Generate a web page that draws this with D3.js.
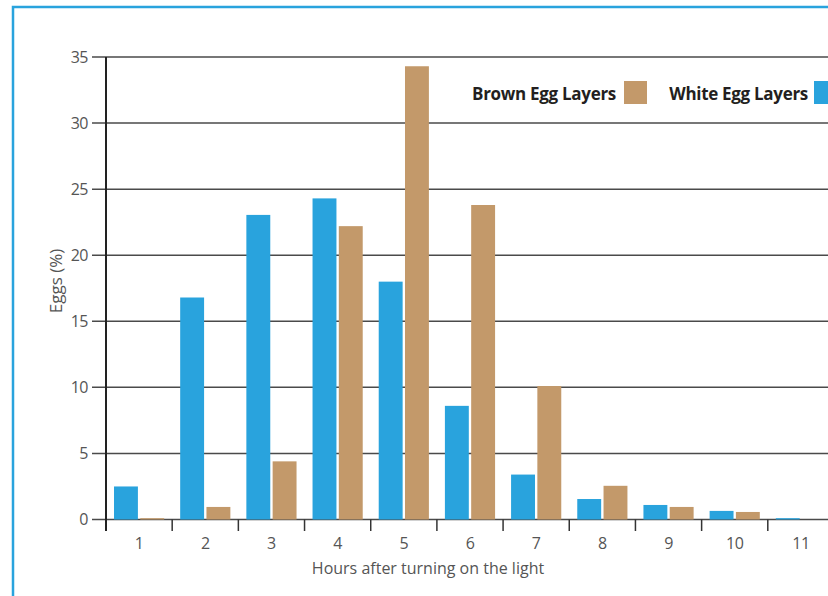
<!DOCTYPE html>
<html>
<head>
<meta charset="utf-8">
<script src="https://cdn.jsdelivr.net/npm/d3@7"></script>
<style>
  body { margin: 0; background: #fff; }
  text { font-family: "Open Sans", "Noto Sans", sans-serif; }
</style>
</head>
<body>
<svg width="828" height="596"></svg>
<script>
// hours after light on
var hours = [1, 2, 3, 4, 5, 6, 7, 8, 9, 10, 11];
var whiteEggs = [2.5, 16.8, 23.05, 24.3, 18.0, 8.6, 3.4, 1.55, 1.1, 0.65, 0.1];
var brownEggs = [0.1, 0.95, 4.4, 22.2, 34.3, 23.8, 10.1, 2.55, 0.95, 0.57, 0];
var yTicks = [0, 5, 10, 15, 20, 25, 30, 35];
var seriesNames = ["White Egg Layers", "Brown Egg Layers"];

var blue = "#29a3dd", brown = "#c3996a";

var svg = d3.select("svg");

// outer frame (runs off the right and bottom edge)
svg.append("path")
  .attr("d", "M13,600 L13,7 L840,7")
  .attr("fill", "none")
  .attr("stroke", blue)
  .attr("stroke-width", 2.5);

var x = d3.scaleBand().domain(hours).range([106, 106 + 11 * 66.18]);
var xs = d3.scaleBand().domain(seriesNames).range([8, 66.18 - 8]).paddingInner(0.09);
var y = d3.scaleLinear().domain([0, 35]).range([519.5, 57]);

// grid lines
svg.append("g")
  .selectAll("line")
  .data(yTicks)
  .enter().append("line")
  .attr("x1", 92)
  .attr("x2", 828)
  .attr("y1", d => y(d))
  .attr("y2", d => y(d))
  .attr("stroke", "#4a4a4a")
  .attr("stroke-width", 1.5);

// y tick labels
svg.append("g")
  .selectAll("text")
  .data(yTicks)
  .enter().append("text")
  .attr("x", 88)
  .attr("y", d => y(d))
  .attr("dy", "0.35em")
  .attr("text-anchor", "end")
  .attr("fill", "#555")
  .style("font-size", "16px")
  .style("letter-spacing", "-0.5px")
  .text(d => d);

// bars
var groups = svg.append("g")
  .selectAll("g")
  .data(hours)
  .enter().append("g")
  .attr("transform", d => "translate(" + x(d) + ",0)");

groups.append("rect")
  .attr("x", xs("White Egg Layers"))
  .attr("width", xs.bandwidth())
  .attr("y", (d, i) => y(whiteEggs[i]))
  .attr("height", (d, i) => y(0) - y(whiteEggs[i]))
  .attr("fill", blue);

groups.append("rect")
  .attr("x", xs("Brown Egg Layers"))
  .attr("width", xs.bandwidth())
  .attr("y", (d, i) => y(brownEggs[i]))
  .attr("height", (d, i) => y(0) - y(brownEggs[i]))
  .attr("fill", brown);

// x axis ticks at band edges
svg.append("g")
  .selectAll("line")
  .data(hours)
  .enter().append("line")
  .attr("x1", d => x(d))
  .attr("x2", d => x(d))
  .attr("y1", y(0))
  .attr("y2", 531)
  .attr("stroke", "#333")
  .attr("stroke-width", 1.5);

svg.append("g")
  .selectAll("text")
  .data(hours)
  .enter().append("text")
  .attr("x", d => x(d) + x.bandwidth() / 2)
  .attr("y", 543)
  .attr("dy", "0.35em")
  .attr("text-anchor", "middle")
  .attr("fill", "#555")
  .style("font-size", "16px")
  .style("letter-spacing", "-0.5px")
  .text(d => d);

// y axis line
svg.append("line")
  .attr("x1", 106).attr("x2", 106)
  .attr("y1", y(35)).attr("y2", 531)
  .attr("stroke", "#222")
  .attr("stroke-width", 2);

// axis titles
svg.append("text")
  .attr("x", 428)
  .attr("y", 568)
  .attr("dy", "0.35em")
  .attr("text-anchor", "middle")
  .attr("fill", "#555")
  .style("font-size", "16px")
  .text("Hours after turning on the light");

svg.append("text")
  .attr("transform", "translate(56,281) rotate(-90)")
  .attr("dy", "0.35em")
  .attr("text-anchor", "middle")
  .attr("fill", "#555")
  .style("font-size", "17px")
  .text("Eggs (%)");

// legend
var legend = [
  {name: "Brown Egg Layers", color: brown, tx: 616, sx: 624},
  {name: "White Egg Layers", color: blue, tx: 808, sx: 814}
];
var lg = svg.append("g")
  .selectAll("g")
  .data(legend)
  .enter().append("g");
lg.append("text")
  .attr("x", d => d.tx)
  .attr("y", 94)
  .attr("dy", "0.35em")
  .attr("text-anchor", "end")
  .attr("fill", "#231f20")
  .style("font-size", "17px")
  .style("font-weight", "bold")
  .style("letter-spacing", "-0.3px")
  .text(d => d.name);
lg.append("rect")
  .attr("x", d => d.sx)
  .attr("y", 81)
  .attr("width", 23)
  .attr("height", 23)
  .attr("fill", d => d.color);
</script>
</body>
</html>
